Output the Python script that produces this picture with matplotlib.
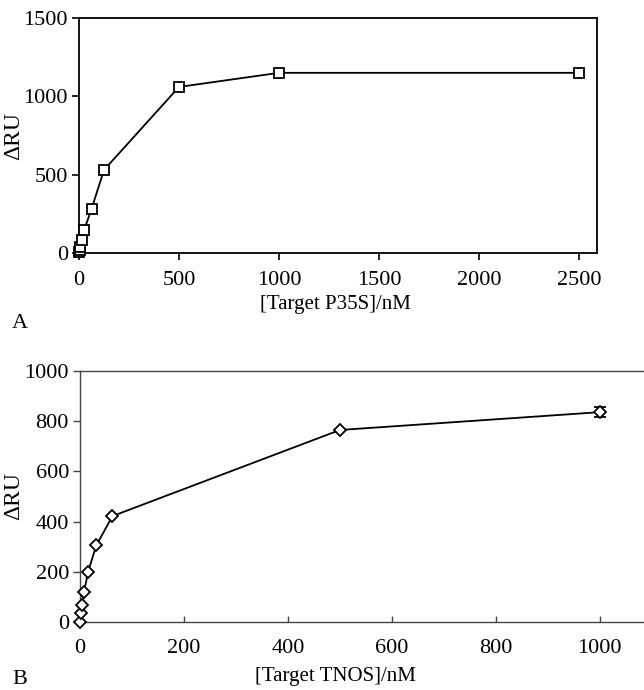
import matplotlib
matplotlib.use("Agg")
import matplotlib.pyplot as plt

plt.rcParams['font.family'] = ['Liberation Serif', 'DejaVu Serif']

# Panel A data
p35s_conc = [0, 3.125, 6.25, 12.5, 25, 62.5, 125, 500, 1000, 2500]
p35s_ru = [5, 20, 40, 80, 145, 280, 530, 1060, 1150, 1150]

# Panel B data
tnos_conc = [0, 1.95, 3.9, 7.8, 15.6, 31.25, 62.5, 500, 1000]
tnos_ru = [0, 36, 68, 120, 200, 305, 422, 765, 836]
tnos_err = [0, 0, 0, 0, 0, 0, 0, 0, 20]

xticks_a = [0, 500, 1000, 1500, 2000, 2500]
yticks_a = [0, 500, 1000, 1500]
xticks_b = [0, 200, 400, 600, 800, 1000]
yticks_b = [0, 200, 400, 600, 800, 1000]

W, H = 644, 690
fig = plt.figure(figsize=(W / 100, H / 100), dpi=100)

# ---- Panel A ----
a_l, a_r, a_t, a_b = 79, 597, 18, 253
axA = fig.add_axes([a_l / W, 1 - a_b / H, (a_r - a_l) / W, (a_b - a_t) / H])
axA.plot(p35s_conc, p35s_ru, color='black', lw=1.3, marker='s', ms=7,
         mfc='white', mec='black', mew=1.3, clip_on=False, zorder=3)
axA.set_xlim(0, 2590)
axA.set_ylim(0, 1500)
axA.set_xticks(xticks_a)
axA.set_yticks(yticks_a)
for s in axA.spines.values():
    s.set_linewidth(1.3)
axA.tick_params(axis='both', direction='out', length=5, width=1.2,
                labelsize=16, pad=3)
axA.tick_params(axis='x', pad=8)
axA.set_ylabel('ΔRU', fontsize=17)
axA.yaxis.set_label_coords((24 - a_l) / (a_r - a_l), 0.5)
axA.set_xlabel('[Target P35S]/nM', fontsize=15)
axA.xaxis.set_label_coords((335 - a_l) / (a_r - a_l), -(304 - a_b) / (a_b - a_t))
axA.xaxis.label.set_va('center')
fig.text(12 / W, 1 - 323 / H, 'A', fontsize=16, va='center', ha='left')

# ---- Panel B ----
b_l, b_r, b_t, b_b = 80, 644, 371, 622
axB = fig.add_axes([b_l / W, 1 - b_b / H, (b_r - b_l) / W, (b_b - b_t) / H])
axB.errorbar(tnos_conc, tnos_ru, yerr=tnos_err, color='black', lw=1.3,
             marker='D', ms=6, mfc='white', mec='black', mew=1.3,
             capsize=4, elinewidth=1.3, capthick=1.5, clip_on=False, zorder=3)
axB.set_xlim(0, 1085)
axB.set_ylim(0, 1000)
axB.set_xticks(xticks_b)
axB.set_yticks(yticks_b)
axB.spines['right'].set_visible(False)
for k in ['left', 'bottom', 'top']:
    axB.spines[k].set_color('#444444')
    axB.spines[k].set_linewidth(1.0)
axB.tick_params(axis='y', direction='out', length=5, width=1.0,
                labelsize=16, pad=3, color='#444444')
axB.tick_params(axis='x', direction='in', length=4, width=1.0,
                labelsize=16, pad=12, color='#444444')
axB.set_ylabel('ΔRU', fontsize=17)
axB.yaxis.set_label_coords((24 - b_l) / (b_r - b_l), 0.5)
axB.set_xlabel('[Target TNOS]/nM', fontsize=15)
axB.xaxis.set_label_coords((335 - b_l) / (b_r - b_l), -(677 - b_b) / (b_b - b_t))
axB.xaxis.label.set_va('center')
fig.text(12 / W, 1 - 680 / H, 'B', fontsize=16, va='center', ha='left')

fig.savefig('out.png', dpi=100, facecolor='white')
